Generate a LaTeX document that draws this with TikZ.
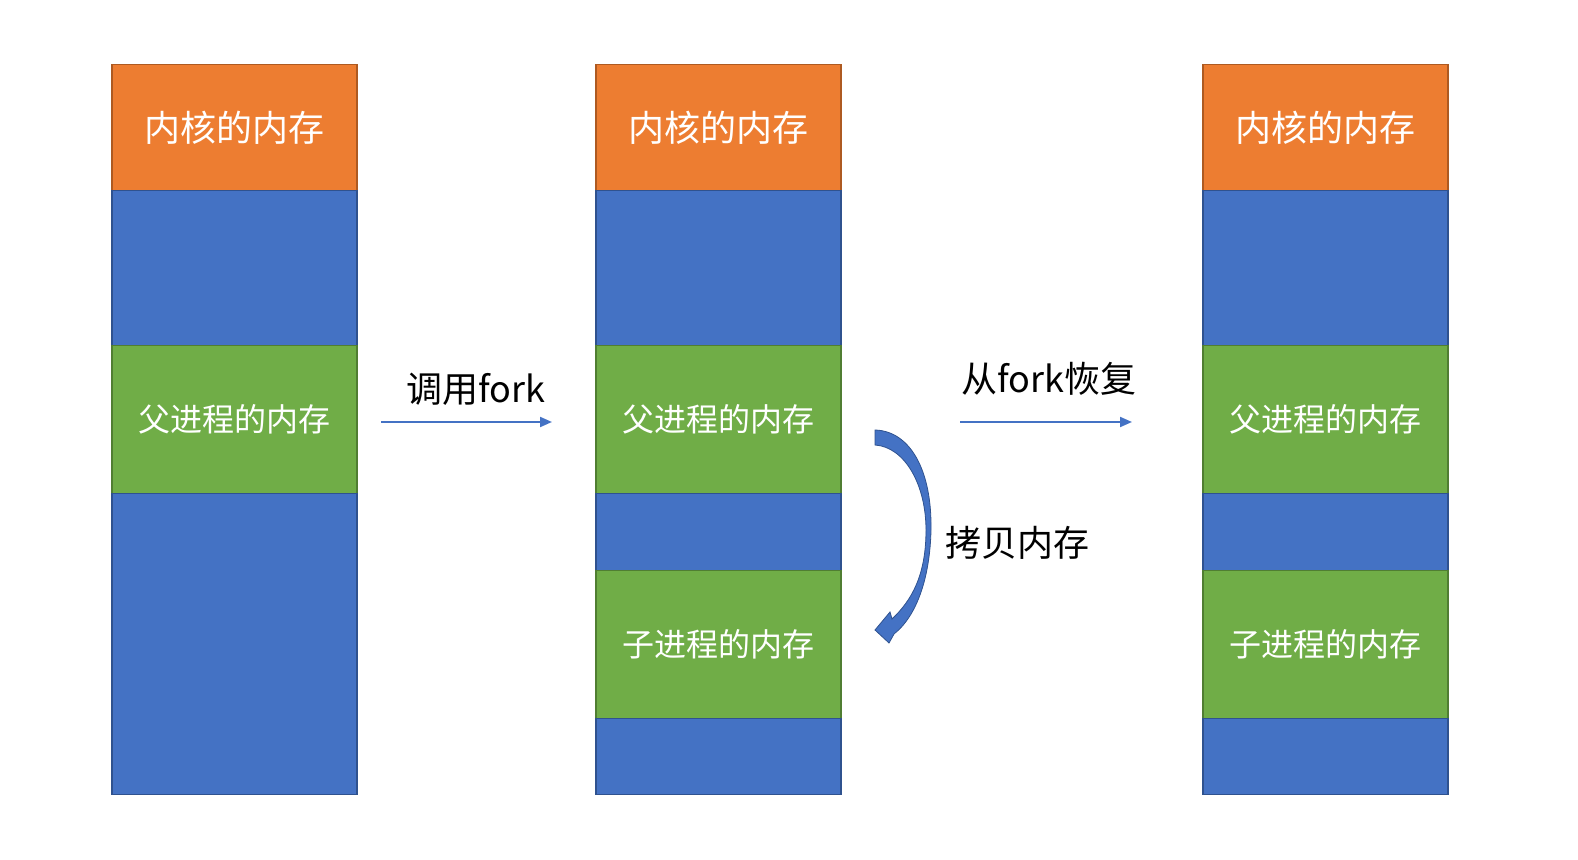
\documentclass[tikz,border=0pt]{standalone}
\usepackage{fontspec}
\newfontfamily\cjk{Noto Sans CJK SC}
\usepackage{tikz}
\usetikzlibrary{positioning,arrows.meta}
\definecolor{korange}{HTML}{ED7D31}
\definecolor{korangeline}{HTML}{AE5A21}
\definecolor{kblue}{HTML}{4472C4}
\definecolor{kblueline}{HTML}{2F528F}
\definecolor{kgreen}{HTML}{70AD47}
\definecolor{kgreenline}{HTML}{507E32}
\tikzset{
  memblock/.style={rectangle, draw, minimum width=122.5pt, inner sep=0pt,
      outer sep=0pt, line width=0.8pt, text=white},
  kernelblock/.style={memblock, fill=korange, draw=korangeline, minimum height=63pt,
      font=\cjk\fontsize{18}{20}\selectfont},
  freeblock/.style={memblock, fill=kblue, draw=kblueline},
  procblock/.style={memblock, fill=kgreen, draw=kgreenline, minimum height=74pt,
      font=\cjk\fontsize{16}{18}\selectfont},
  tag/.style={font=\cjk\fontsize{18}{20}\selectfont, text=black, inner sep=0pt},
  arrow/.style={draw=kblue, line width=1pt, -{Triangle[length=6pt,width=5pt]}}
}
\begin{document}
\begin{tikzpicture}[x=0.5pt, y=-0.5pt]
    \useasboundingbox (0,0) rectangle (1578,860);
    % before fork
    \node [kernelblock, anchor=north west] (kernelA) at (112,64.5) {内核的内存};
    \node [freeblock, minimum height=77.5pt, below=0pt of kernelA] (freeA) {};
    \node [procblock, below=0pt of freeA] (parentA) {父进程的内存};
    \node [freeblock, minimum height=150.5pt, below=0pt of parentA] (restA) {};
    % during fork
    \node [kernelblock, anchor=north west] (kernelB) at (596,64.5) {内核的内存};
    \node [freeblock, minimum height=77.5pt, below=0pt of kernelB] (freeB) {};
    \node [procblock, below=0pt of freeB] (parentB) {父进程的内存};
    \node [freeblock, minimum height=38.5pt, below=0pt of parentB] (gapB) {};
    \node [procblock, below=0pt of gapB] (childB) {子进程的内存};
    \node [freeblock, minimum height=38pt, below=0pt of childB] (restB) {};
    % after fork
    \node [kernelblock, anchor=north west] (kernelC) at (1203,64.5) {内核的内存};
    \node [freeblock, minimum height=77.5pt, below=0pt of kernelC] (freeC) {};
    \node [procblock, below=0pt of freeC] (parentC) {父进程的内存};
    \node [freeblock, minimum height=38.5pt, below=0pt of parentC] (gapC) {};
    \node [procblock, below=0pt of gapC] (childC) {子进程的内存};
    \node [freeblock, minimum height=38pt, below=0pt of childC] (restC) {};
    % arrows
    \coordinate (callStart) at (381,422);
    \coordinate (callEnd) at (552,422);
    \coordinate (backStart) at (960,422);
    \coordinate (backEnd) at (1132,422);
    \path [arrow] (callStart) -- (callEnd);
    \path [arrow] (backStart) -- (backEnd);
    \node [tag] (callFork) at (476,389) {调用fork};
    \node [tag] (backFork) at (1049,379) {从fork恢复};
    % copy arrow
    \fill [kblue, draw=kblueline, line width=0.4pt]
        (875,430) .. controls (910,431) and (932,470) .. (931,530)
        .. controls (930,575) and (918,615) .. (894,634)
        -- (889,643) -- (875,630) -- (890,612) -- (892,619)
        .. controls (912,600) and (926,575) .. (926,530)
        .. controls (926,485) and (905,447) .. (875,445) -- cycle;
    \node [tag, anchor=west] (copyMem) at (945,543) {拷贝内存};
\end{tikzpicture}
\end{document}
